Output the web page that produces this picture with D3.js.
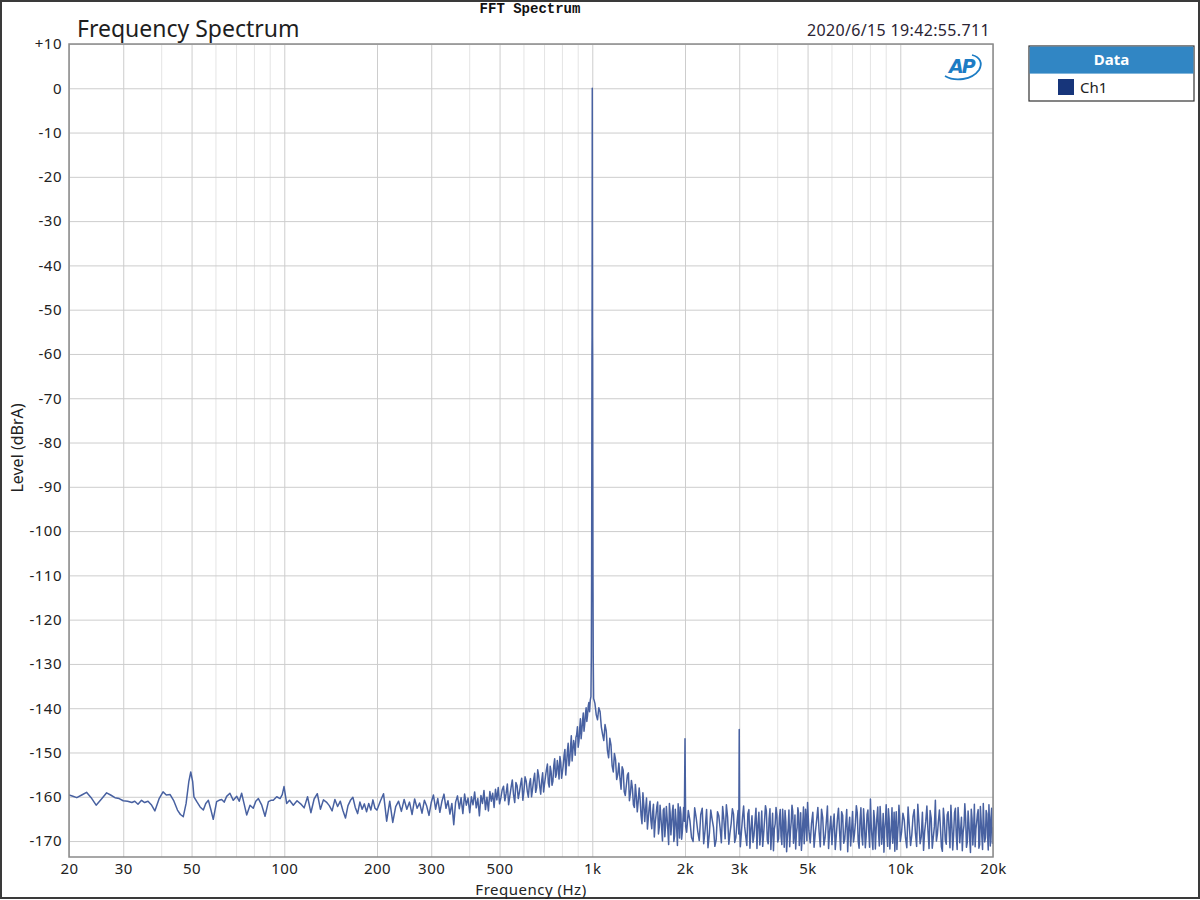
<!DOCTYPE html>
<html lang="en">
<head>
<meta charset="UTF-8" />
<title>Frequency Spectrum</title>
<script src="https://d3js.org/d3.v7.min.js"></script>
<style>
    body { margin: 0; background: #fff; }
    svg { display: block; font-family: 'Noto Sans', sans-serif; }
    .axis .domain { display: none; }
</style>
</head>
<body>
<svg width="1200" height="900"></svg>
<script>

// ---- values (Hz / dBrA) ----
var lowFreq = [20, 20.6, 21.2, 22, 22.8, 23.6, 24.5, 25.5, 26.5, 27.3, 28.2, 29.1, 30, 31, 32, 32.7, 33.5, 34.4, 35.2, 36.1,
    37, 38, 39.2, 40.4, 41.4, 42.6, 43.7, 45, 46, 47, 48, 49, 49.7, 50.4, 50.9, 52, 53.3, 54.6, 55.6, 56.7,
    57.8, 58.8, 60.3, 61.4, 62.6, 63.8, 65, 66.6, 68.3, 70.1, 71.4, 72.7, 74, 75.5, 77.4, 79.3, 80.8, 82.4, 84.5, 86.6,
    88.8, 90.5, 92.1, 94.5, 96.9, 98.5, 99.8, 101.8];
var lowLevel = [-159.6, -159.9, -160.2, -159.6, -159.0, -160.2, -161.9, -160.5, -159.1, -159.6, -160.2, -160.4, -160.9, -161.0, -161.3, -161.0, -161.7, -160.8, -161.3, -161.0,
    -161.8, -163.2, -160.5, -158.9, -159.6, -159.5, -160.8, -163.0, -164.0, -164.5, -161.5, -156.5, -154.4, -156.5, -160.0, -161.1, -162.3, -163.0, -161.5, -160.8,
    -163.0, -165.1, -161.1, -160.8, -160.6, -161.2, -159.9, -159.2, -160.8, -159.9, -161.0, -159.2, -161.5, -164.1, -161.9, -162.6, -161.0, -160.4, -161.9, -164.4,
    -161.1, -160.8, -160.8, -160.0, -160.4, -159.5, -157.7, -161.5];

var midFreq = [104, 107, 110, 113, 116, 119, 122, 125, 128, 131, 134, 137, 140, 143, 146, 149, 152, 155, 158, 161,
    164, 167, 170, 173, 176, 179, 182, 185, 188, 191, 194, 197, 200,
    205, 210, 215, 220, 225, 230, 235, 240, 245, 250, 255, 260, 265, 270, 275, 280, 285, 290, 295, 300,
    305, 310, 315, 320, 325, 330, 335, 340, 345, 350, 355, 360, 365, 370, 375, 380, 385, 390, 395, 400,
    405, 410, 415, 420, 425, 430, 435, 440, 445, 450, 455, 460, 465, 470, 475, 480, 485, 490, 495, 500];
var midLevel = [-160.8, -161.9, -160.9, -161.6, -162.5, -160.0, -163.6, -160.5, -159.3, -162.8, -160.7, -161.2, -162.0, -163.2, -160.6, -162.2, -161.0, -163.1, -164.8, -162.0,
    -160.8, -160.1, -162.4, -163.8, -161.2, -162.8, -161.6, -163.4, -161.5, -163.0, -160.7, -162.6, -163.0,
    -161.0, -159.3, -165.5, -161.0, -165.8, -162.2, -161.0, -163.3, -160.6, -162.8, -161.2, -164.0, -160.5, -162.6, -161.4, -163.7, -160.8, -162.1, -164.2, -161.3,
    -159.6, -162.8, -160.4, -163.5, -161.0, -159.4, -162.6, -160.9, -163.9, -161.5, -166.3, -161.2, -159.8, -162.7, -160.2, -163.8, -159.4, -161.9, -160.3, -163.6,
    -160.0, -161.8, -158.9, -162.5, -160.4, -164.3, -159.7, -161.5, -158.6, -162.9, -160.1, -163.2, -158.8, -161.0, -159.2, -162.4, -158.3, -160.7, -157.9, -161.6];

var riseFreq = [505, 510, 515, 520, 525, 530, 535, 540, 545, 550, 555, 560, 565, 570, 575, 580, 585, 590, 595, 600,
    605, 610, 615, 620, 625, 630, 635, 640, 645, 650, 655, 660, 665, 670, 675, 680, 685, 690, 695, 700,
    705, 710, 715, 720, 725, 730, 735, 740, 745, 750, 755, 760, 765, 770, 775, 780, 785, 790, 795, 800,
    805, 810, 815, 820, 825, 830, 835, 840, 845, 850, 855, 860, 865, 870, 875, 880, 885, 890, 895, 900,
    905, 910, 915, 920, 925, 930, 935, 940, 945, 950, 955, 960, 965, 970, 975, 980];
var riseLevel = [-160.2, -158.4, -157.6, -160.9, -159.3, -157.1, -161.8, -159.8, -157.9, -156.2, -159.5, -161.3, -156.8, -157.5, -160.4, -159.0, -157.2, -155.8, -160.8, -158.6,
    -155.5, -156.4, -158.7, -160.1, -157.1, -155.9, -160.0, -158.2, -156.2, -154.7, -159.0, -157.9, -153.9, -155.3, -157.6, -159.4, -156.4, -154.6, -158.9, -157.0,
    -155.4, -153.8, -152.6, -156.9, -157.8, -153.1, -154.3, -157.4, -156.5, -152.9, -151.4, -155.6, -154.9, -151.8, -153.4, -156.0, -150.9, -152.2, -155.8, -154.4,
    -152.8, -150.6, -149.3, -155.1, -152.6, -149.8, -147.9, -153.0, -151.8, -148.7, -146.2, -151.9, -149.6, -147.3, -148.4, -150.6, -146.6, -145.9, -144.2, -148.8,
    -147.5, -144.7, -142.4, -146.9, -145.0, -142.8, -141.1, -145.2, -143.6, -141.4, -139.9, -143.0, -141.7, -139.6, -138.7, -140.8];

var peakFreq = [985, 990, 993, 995, 996.5, 997.5, 998.3, 999, 999.6, 1000, 1000.4, 1001, 1001.7, 1002.5, 1003.5, 1005, 1007, 1010];
var peakLevel = [-138.2, -137.4, -128, -110, -85, -60, -56, -35, -10, 0, -10, -35, -56, -60, -85, -110, -128, -137.8];

var fallFreq = [1020, 1030, 1040, 1050, 1060, 1070, 1080, 1090, 1100, 1110, 1120, 1130, 1140, 1150, 1160, 1170, 1180, 1190, 1200, 1210,
    1220, 1230, 1240, 1250, 1260, 1270, 1280, 1290, 1300, 1310, 1320, 1330, 1340, 1350, 1360, 1370, 1380, 1390, 1400, 1410,
    1420, 1430, 1440, 1450, 1460, 1470, 1480, 1490, 1500, 1510, 1520, 1530, 1540, 1550, 1560, 1570, 1580, 1590, 1600, 1610,
    1620, 1630, 1640, 1650, 1660, 1670, 1680, 1690, 1700, 1710, 1720, 1730, 1740, 1750, 1760, 1770, 1780, 1790, 1800, 1810,
    1820, 1830, 1840, 1850, 1860, 1870, 1880, 1890, 1900, 1910, 1920, 1930, 1940, 1950, 1960, 1970, 1980, 1990, 2000, 2010];
var fallLevel = [-138.9, -141.5, -142.6, -139.9, -140.8, -144.2, -145.9, -147.3, -143.7, -145.1, -149.6, -151.2, -146.8, -148.3, -153.0, -154.4, -150.2, -151.6, -156.1, -155.0,
    -152.4, -155.8, -158.3, -153.2, -154.0, -158.9, -159.7, -157.4, -155.1, -154.6, -160.9, -159.2, -156.3, -158.1, -161.8, -162.4, -157.2, -159.9, -163.4, -161.0,
    -158.0, -160.6, -164.2, -166.1, -159.1, -161.8, -165.6, -162.7, -160.3, -167.3, -164.9, -162.5, -161.0, -165.4, -167.2, -163.6, -161.7, -169.1, -166.0, -164.2,
    -162.3, -161.2, -168.4, -166.9, -161.9, -164.5, -167.1, -170.0, -163.0, -162.6, -169.0, -166.3, -162.2, -164.9, -167.8, -170.8, -161.5, -163.7, -168.6, -166.1,
    -163.3, -161.9, -170.1, -168.9, -162.8, -165.2, -167.5, -171.0, -161.6, -164.4, -169.3, -162.3, -163.9, -169.6, -168.0, -165.0, -162.4, -165.5, -146.9, -166.8];

var highFreq = [2025, 2050, 2075, 2100, 2125, 2150, 2175, 2200, 2225, 2250, 2275, 2300, 2325, 2350, 2375, 2400, 2425, 2450, 2475, 2500,
    2525, 2550, 2575, 2600, 2625, 2650, 2675, 2700, 2725, 2750, 2775, 2800, 2825, 2850, 2875, 2900, 2925, 2950, 2975,
    2990, 3000, 3010,
    3025, 3050, 3075, 3100, 3125, 3150, 3175, 3200, 3225, 3250, 3275, 3300, 3325, 3350, 3375, 3400, 3425, 3450, 3475, 3500,
    3525, 3550, 3575, 3600, 3625, 3650, 3675, 3700, 3725, 3750, 3775, 3800, 3825, 3850, 3875, 3900, 3925, 3950, 3975, 4000,
    4025, 4050, 4075, 4100, 4125, 4150, 4175, 4200, 4225, 4250, 4275, 4300, 4325, 4350, 4375, 4400, 4425, 4450, 4475, 4500,
    4525, 4550, 4575, 4600, 4625, 4650, 4675, 4700, 4725, 4750, 4775, 4800, 4825, 4850, 4875, 4900, 4925, 4950, 4975, 5000];
var highLevel = [-168.0, -163.1, -165.4, -169.2, -170.1, -162.5, -164.8, -167.8, -169.9, -164.0, -162.6, -170.6, -167.4, -162.9, -171.5, -168.3, -163.0, -165.1, -166.9, -171.2,
    -169.7, -163.4, -164.3, -167.0, -170.4, -162.2, -165.2, -169.5, -161.8, -164.6, -170.7, -168.1, -166.0, -162.7, -163.9, -170.3, -169.2, -165.8, -163.1,
    -168.4, -144.8, -166.9,
    -171.3, -167.9, -164.6, -162.1, -166.8, -169.0, -171.0, -163.8, -162.9, -171.6, -167.2, -164.3, -170.3, -168.7, -165.5, -162.6, -171.7, -166.4, -163.5, -170.9,
    -167.8, -163.2, -171.2, -168.5, -165.3, -162.0, -163.2, -169.8, -170.6, -165.0, -162.7, -171.9, -168.0, -163.7, -172.2, -167.3, -166.1, -162.4, -164.0, -170.2,
    -169.5, -164.8, -162.9, -168.9, -170.8, -162.8, -166.3, -171.4, -163.1, -165.6, -172.4, -169.1, -167.0, -163.0, -171.3, -167.7, -165.7, -161.9, -163.3, -170.5,
    -168.7, -164.1, -171.8, -168.2, -166.9, -162.5, -163.7, -171.0, -168.3, -163.6, -172.1, -169.4, -165.9, -162.3, -170.6, -167.6, -162.8, -165.2, -169.9, -161.3];

var upperFreq = [5050, 5100, 5150, 5200, 5250, 5300, 5350, 5400, 5450, 5500, 5550, 5600, 5650, 5700, 5750, 5800, 5850, 5900, 5950, 6000,
    6050, 6100, 6150, 6200, 6250, 6300, 6350, 6400, 6450, 6500, 6550, 6600, 6650, 6700, 6750, 6800, 6850, 6900, 6950, 7000,
    7050, 7100, 7150, 7200, 7250, 7300, 7350, 7400, 7450, 7500, 7550, 7600, 7650, 7700, 7750, 7800, 7850, 7900, 7950, 8000,
    8050, 8100, 8150, 8200, 8250, 8300, 8350, 8400, 8450, 8500, 8550, 8600, 8650, 8700, 8750, 8800, 8850, 8900, 8950, 9000,
    9050, 9100, 9150, 9200, 9250, 9300, 9350, 9400, 9450, 9500, 9550, 9600, 9650, 9700, 9750, 9800, 9850, 9900, 9950, 10000];
var upperLevel = [-167.6, -170.4, -166.0, -163.5, -171.4, -168.0, -165.3, -162.4, -167.9, -171.3, -162.8, -164.7, -170.9, -169.2, -165.8, -162.1, -171.7, -167.5, -164.4, -170.8,
    -166.6, -163.9, -171.9, -168.6, -165.0, -162.6, -167.8, -172.0, -163.4, -164.2, -170.5, -169.7, -166.3, -162.9, -172.4, -167.1, -164.6, -171.1, -167.7, -163.3,
    -170.2, -168.4, -165.9, -162.0, -163.6, -170.0, -171.6, -165.4, -162.5, -168.8, -170.9, -162.7, -166.2, -171.5, -168.9, -164.0, -163.0, -167.9, -171.4, -160.5,
    -166.7, -169.6, -171.9, -163.1, -165.2, -171.8, -167.4, -164.5, -162.3, -168.3, -171.1, -162.2, -165.6, -170.7, -168.2, -163.8, -172.5, -167.4, -165.4, -161.8,
    -168.9, -171.2, -162.7, -164.9, -171.8, -169.0, -166.4, -162.5, -170.5, -167.9, -163.5, -172.3, -167.2, -163.4, -171.9, -168.6, -166.0, -161.9, -164.3, -170.1];

var topFreq = [10100, 10200, 10300, 10400, 10500, 10600, 10700, 10800, 10900, 11000, 11100, 11200, 11300, 11400, 11500, 11600, 11700, 11800, 11900, 12000,
    12100, 12200, 12300, 12400, 12500, 12600, 12700, 12800, 12900, 13000, 13100, 13200, 13300, 13400, 13500, 13600, 13700, 13800, 13900, 14000,
    14100, 14200, 14300, 14400, 14500, 14600, 14700, 14800, 14900, 15000, 15100, 15200, 15300, 15400, 15500, 15600, 15700, 15800, 15900, 16000,
    16100, 16200, 16300, 16400, 16500, 16600, 16700, 16800, 16900, 17000, 17100, 17200, 17300, 17400, 17500, 17600, 17700, 17800, 17900, 18000,
    18100, 18200, 18300, 18400, 18500, 18600, 18700, 18800, 18900, 19000, 19100, 19200, 19300, 19400, 19500, 19600, 19700, 19800, 19900, 20000];
var topLevel = [-167.9, -163.7, -165.2, -169.3, -171.5, -162.3, -166.7, -171.0, -168.6, -164.4, -162.9, -168.2, -171.2, -161.7, -165.9, -170.6, -169.0, -163.5, -172.1, -167.8,
    -165.5, -162.1, -167.7, -171.7, -163.1, -164.8, -171.6, -169.1, -166.8, -160.8, -170.0, -168.4, -165.4, -163.0, -166.9, -171.3, -172.3, -162.6, -165.1, -169.8,
    -170.7, -164.1, -163.4, -167.5, -171.5, -161.9, -166.2, -172.0, -168.5, -163.6, -162.6, -168.9, -171.9, -162.4, -165.7, -170.4, -167.4, -164.6, -172.2, -168.0,
    -166.5, -161.6, -164.8, -171.4, -170.3, -163.2, -166.0, -169.5, -172.6, -162.8, -164.9, -170.9, -167.6, -161.7, -171.3, -167.3, -165.8, -163.9, -162.9, -171.6,
    -170.8, -162.2, -165.3, -169.0, -171.9, -161.5, -166.6, -170.2, -169.3, -163.1, -163.8, -168.7, -172.0, -161.8, -166.4, -171.1, -164.7, -162.6, -170.5, -166.9];

// axis ticks
var freqTicks = [20, 30, 50, 100, 200, 300, 500, 1000, 2000, 3000, 5000, 10000, 20000];
var freqLabels = ["20", "30", "50", "100", "200", "300", "500", "1k", "2k", "3k", "5k", "10k", "20k"];
var freqMinor = [40, 60, 70, 80, 90, 400, 600, 700, 800, 900, 4000, 6000, 7000, 8000, 9000];
var levelTicks = [10, 0, -10, -20, -30, -40, -50, -60, -70, -80, -90, -100, -110, -120, -130, -140, -150, -160, -170];

// join the bands into one trace
var bands = [[lowFreq, lowLevel], [midFreq, midLevel], [riseFreq, riseLevel], [peakFreq, peakLevel],
             [fallFreq, fallLevel], [highFreq, highLevel], [upperFreq, upperLevel], [topFreq, topLevel]];
var spectrum = [];
bands.forEach(function(b) {
    d3.zip(b[0], b[1]).forEach(function(p) { spectrum.push({f: p[0], db: p[1]}); });
});
spectrum.sort(function(a, b) { return a.f - b.f; });

// layout
var svg = d3.select("svg"),
    margin = {top: 44, left: 69},
    width = 924,
    height = 813;

svg.append("rect")
    .attr("x", 1).attr("y", 1).attr("width", 1198).attr("height", 897)
    .attr("fill", "#fff").attr("stroke", "#3a3a3a").attr("stroke-width", 2);

var g = svg.append("g").attr("transform", "translate(" + margin.left + "," + margin.top + ")");

var x = d3.scaleLog().domain([20, 20000]).range([0, width]);
var y = d3.scaleLinear().domain([-173.6, 10]).range([height, 0]);

// minor vertical grid
g.append("g")
    .selectAll("line")
    .data(freqMinor)
    .enter().append("line")
        .attr("x1", function(d) { return x(d); })
        .attr("x2", function(d) { return x(d); })
        .attr("y1", 0)
        .attr("y2", height)
        .attr("stroke", "#e4e4e4")
        .attr("stroke-width", 1);

// bottom axis with major grid
var xAxis = g.append("g")
    .attr("class", "axis")
    .attr("transform", "translate(0," + height + ")")
    .call(d3.axisBottom(x)
        .tickValues(freqTicks)
        .tickFormat(function(d, i) { return freqLabels[i]; })
        .tickSize(-height)
        .tickPadding(6));
xAxis.selectAll("line").attr("stroke", "#cdcdcd");
xAxis.selectAll("text").attr("fill", "#222")
    .style("font-size", "15px").style("letter-spacing", "0.5px")
    .style("font-family", "'Noto Sans', sans-serif");

// left axis with horizontal grid
var yAxis = g.append("g")
    .attr("class", "axis")
    .call(d3.axisLeft(y)
        .tickValues(levelTicks)
        .tickFormat(function(d) { return d > 0 ? "+" + d : String(d); })
        .tickSize(-width)
        .tickPadding(7));
yAxis.selectAll("line").attr("stroke", "#cdcdcd");
yAxis.selectAll("text").attr("fill", "#222")
    .style("font-size", "15px").style("letter-spacing", "0.5px")
    .style("font-family", "'Noto Sans', sans-serif");

// the trace
g.append("clipPath").attr("id", "plotClip")
  .append("rect").attr("width", width).attr("height", height);

g.append("path")
    .datum(spectrum)
    .attr("clip-path", "url(#plotClip)")
    .attr("fill", "none")
    .attr("stroke", "#4861a1")
    .attr("stroke-width", 1.5)
    .attr("stroke-linejoin", "round")
    .attr("d", d3.line()
        .x(function(d) { return x(d.f); })
        .y(function(d) { return y(d.db); }));

// plot frame
g.append("rect")
    .attr("width", width).attr("height", height)
    .attr("fill", "none").attr("stroke", "#8a8a8a").attr("stroke-width", 1.5);

// texts
svg.append("text")
    .attr("x", 530).attr("y", 13)
    .attr("text-anchor", "middle")
    .style("font-family", "'Liberation Mono', monospace")
    .style("font-size", "14px").style("font-weight", "bold")
    .attr("fill", "#111")
    .text("FFT Spectrum");

svg.append("text")
    .attr("x", 77).attr("y", 37)
    .style("font-size", "23px")
    .attr("fill", "#1e1e1e")
    .text("Frequency Spectrum");

svg.append("text")
    .attr("x", 990).attr("y", 36)
    .attr("text-anchor", "end")
    .style("font-size", "16px").style("letter-spacing", "0.35px")
    .attr("fill", "#2b2433")
    .text("2020/6/15 19:42:55.711");

svg.append("text")
    .attr("x", margin.left + width / 2).attr("y", 895)
    .attr("text-anchor", "middle")
    .style("font-size", "15px").style("letter-spacing", "0.5px")
    .attr("fill", "#222")
    .text("Frequency (Hz)");

svg.append("text")
    .attr("transform", "translate(23," + (margin.top + 404) + ") rotate(-90)")
    .attr("text-anchor", "middle")
    .style("font-size", "16px")
    .attr("fill", "#222")
    .text("Level (dBrA)");

// AP logo
var logo = svg.append("g");
logo.append("text")
    .attr("x", 949).attr("y", 73)
    .style("font-family", "'DejaVu Sans', sans-serif")
    .style("font-size", "19px").style("font-style", "italic").style("font-weight", "bold")
    .style("letter-spacing", "-2px")
    .attr("fill", "#1c7cc4")
    .text("AP");
logo.append("path")
    .attr("d", "M945,76 C955,82 972,80 979,70 C983,63 980,57 972,55")
    .attr("fill", "none").attr("stroke", "#1c7cc4").attr("stroke-width", 1.8);

// legend
var legend = svg.append("g").attr("transform", "translate(1029,46)");
legend.append("rect")
    .attr("width", 165).attr("height", 55)
    .attr("fill", "#fff").attr("stroke", "#333").attr("stroke-width", 1.2);
legend.append("rect")
    .attr("x", 0.6).attr("y", 0.6).attr("width", 163.8).attr("height", 27)
    .attr("fill", "#3186c4");
legend.append("text")
    .attr("x", 82.5).attr("y", 19)
    .attr("text-anchor", "middle")
    .style("font-size", "15px").style("font-weight", "bold")
    .attr("fill", "#fff")
    .text("Data");
legend.append("rect")
    .attr("x", 29).attr("y", 33).attr("width", 16).attr("height", 16)
    .attr("fill", "#17357a");
legend.append("text")
    .attr("x", 51).attr("y", 47)
    .style("font-size", "15px")
    .attr("fill", "#222")
    .text("Ch1");

</script>
</body>
</html>
